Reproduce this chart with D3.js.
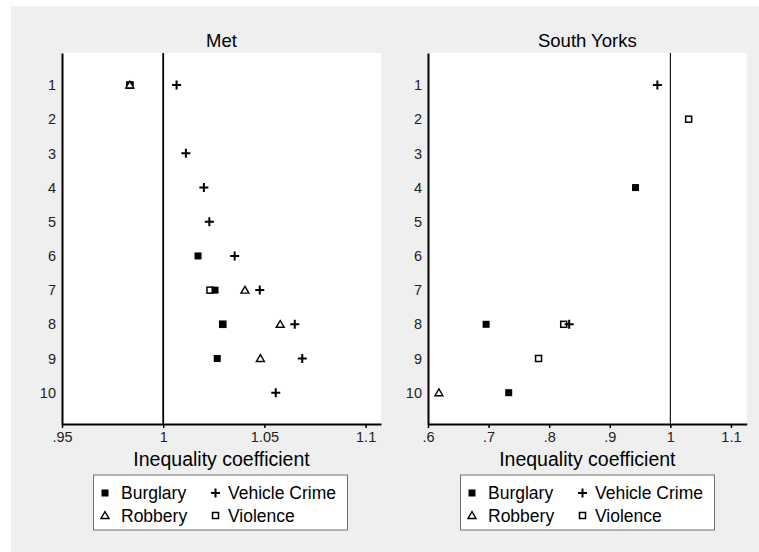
<!DOCTYPE html>
<html><head><meta charset="utf-8">
<script src="https://cdn.jsdelivr.net/npm/d3@7"></script>
<style>
body{margin:0;background:#fff;}
svg{display:block;font-family:"Liberation Sans",Arial,sans-serif;}
</style></head>
<body><svg id="c" width="759" height="552"></svg>
<script>
const rows = [1,2,3,4,5,6,7,8,9,10];
const seriesNames = ["Burglary","Vehicle Crime","Robbery","Violence"];
const panelTitles = ["Met","South Yorks"];
// Met
const metBurglary = [0.9835,null,null,null,null,1.0172,1.0256,1.0294,1.0267,null];
const metVehicle  = [1.0066,null,1.0112,1.0201,1.0228,1.0353,1.0477,1.0650,1.0687,1.0556];
const metRobbery  = [0.9835,null,null,null,null,null,1.0404,1.0578,1.0480,null];
const metViolence = [0.9835,null,null,null,null,null,1.0231,1.0294,null,null];
// South Yorks
const syBurglary = [null,null,null,0.9425,null,null,null,0.6959,null,0.7332];
const syVehicle  = [0.9786,null,null,null,null,null,null,0.8330,null,null];
const syRobbery  = [null,null,null,null,null,null,null,null,null,0.6180];
const syViolence = [null,1.0302,null,null,null,null,null,0.8240,0.7825,null];
const metTicks = [0.95,1,1.05,1.1];
const metTickLabels = [".95","1","1.05","1.1"];
const syTicks = [0.6,0.7,0.8,0.9,1,1.1];
const syTickLabels = [".6",".7",".8",".9","1","1.1"];
const axisTitle = "Inequality coefficient";

const svg = d3.select("#c");
svg.append("rect").attr("x",11).attr("y",6).attr("width",748).attr("height",546).attr("fill","#efefef");

const y = d3.scaleLinear().domain([0.064,10.916]).range([53,424]);

const panels = [
  {title:panelTitles[0], x0:62, x1:381, domain:[0.95,1.1076], ticks:metTicks, labels:metTickLabels,
   data:{Burglary:metBurglary,"Vehicle Crime":metVehicle,Robbery:metRobbery,Violence:metViolence}, refW:1.8, legX:93.5},
  {title:panelTitles[1], x0:428, x1:746.7, domain:[0.6,1.126], ticks:syTicks, labels:syTickLabels,
   data:{Burglary:syBurglary,"Vehicle Crime":syVehicle,Robbery:syRobbery,Violence:syViolence}, refW:1.1, legX:460.5}
];

function drawMarker(g, name, cx, cy){
  if(name==="Burglary"){
    g.append("rect").attr("x",cx-3.5).attr("y",cy-3.5).attr("width",7).attr("height",7).attr("fill","#000");
  } else if(name==="Violence"){
    g.append("rect").attr("x",cx-3).attr("y",cy-3).attr("width",6).attr("height",6).attr("fill","#fff").attr("stroke","#000").attr("stroke-width",1.5);
  } else if(name==="Robbery"){
    g.append("path").attr("d",`M${cx},${cy-3.8}L${cx+4},${cy+3}L${cx-4},${cy+3}Z`).attr("fill","#fff").attr("stroke","#000").attr("stroke-width",1.4);
  } else {
    g.append("path").attr("d",`M${cx-4.5},${cy}H${cx+4.5}M${cx},${cy-4.5}V${cy+4.5}`)
     .attr("stroke","#000").attr("stroke-width",2).attr("fill","none");
  }
}

const drawOrder = ["Violence","Burglary","Vehicle Crime","Robbery"];

panels.forEach(p=>{
  const x = d3.scaleLinear().domain(p.domain).range([p.x0,p.x1]);
  const g = svg.append("g");
  g.append("rect").attr("x",p.x0).attr("y",53).attr("width",p.x1-p.x0).attr("height",424-53).attr("fill","#fff");
  g.append("text").attr("x",(p.x0+p.x1)/2).attr("y",46.5).attr("text-anchor","middle").attr("font-size",18.5).attr("fill","#000").text(p.title);
  g.append("line").attr("x1",x(1)).attr("x2",x(1)).attr("y1",53).attr("y2",424).attr("stroke","#000").attr("stroke-width",p.refW);
  const ya = d3.axisLeft(y).tickValues(rows).tickSize(0).tickPadding(6).tickFormat(d3.format("d"));
  const yg = g.append("g").attr("transform",`translate(${p.x0},0)`).call(ya);
  yg.select(".domain").attr("stroke","#000").attr("stroke-width",2);
  yg.selectAll("text").attr("font-size",14.5).attr("fill","#222").attr("font-family","Liberation Sans,Arial,sans-serif");
  const xa = d3.axisBottom(x).tickValues(p.ticks).tickSize(4).tickPadding(4).tickFormat((d,i)=>p.labels[i]).tickSizeOuter(0);
  const xg = g.append("g").attr("transform",`translate(0,424)`).call(xa);
  xg.select(".domain").attr("stroke","#000").attr("stroke-width",2);
  xg.selectAll(".tick line").attr("stroke","#000").attr("stroke-width",1.5);
  xg.selectAll("text").attr("font-size",14.5).attr("fill","#222").attr("font-family","Liberation Sans,Arial,sans-serif");
  g.append("text").attr("x",(p.x0+p.x1)/2).attr("y",465.5).attr("text-anchor","middle").attr("font-size",19.5).attr("fill","#000").text(axisTitle);
  drawOrder.forEach(name=>{
    p.data[name].forEach((v,i)=>{ if(v!=null) drawMarker(g,name,x(v),y(rows[i])); });
  });
  const lg = g.append("g").attr("transform",`translate(${p.legX},475)`);
  lg.append("rect").attr("x",0).attr("y",0).attr("width",254).attr("height",55).attr("fill","#fff").attr("stroke","#6e6e6e").attr("stroke-width",1);
  const pos = [[11.5,18],[122,18],[11.5,40.5],[122,40.5]];
  seriesNames.forEach((n,i)=>{
    drawMarker(lg,n,pos[i][0],pos[i][1]);
    lg.append("text").attr("x",pos[i][0]+(i%2===0?16:12.5)).attr("y",pos[i][1]+6).attr("font-size",17.5).attr("fill","#000").text(n);
  });
});
</script></body></html>
